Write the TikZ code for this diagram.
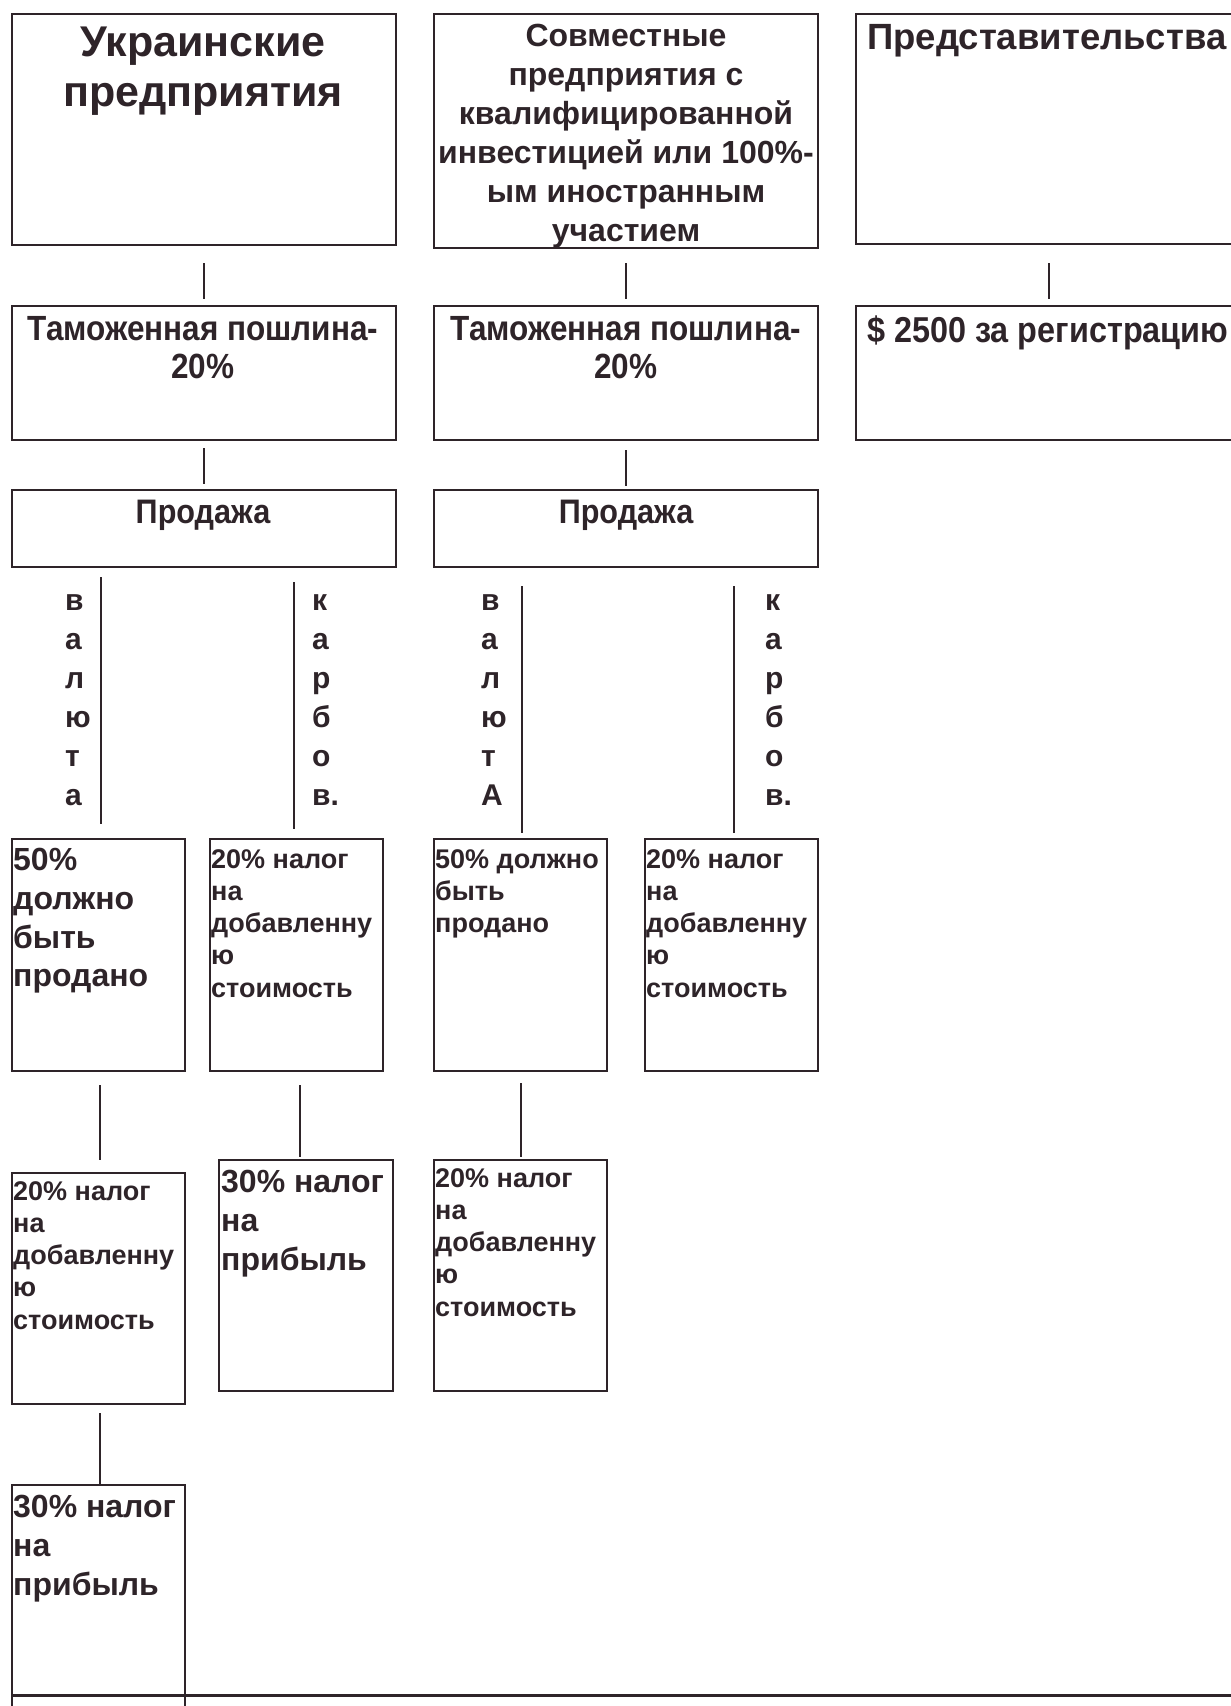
\documentclass[tikz,border=0pt]{standalone}
\usepackage{fontspec}
\setmainfont{Liberation Sans}
\newfontfamily\narrowfont{Liberation Sans}[FakeStretch=0.9]
\usetikzlibrary{calc}
\definecolor{ink}{RGB}{46,36,41}
\tikzset{
  box/.style={draw=ink, line width=2.2pt, inner sep=0pt, anchor=north west},
  conn/.style={draw=ink, line width=2.2pt},
  txt/.style={text=ink, inner sep=0pt},
  big/.style={txt, font={\fontsize{43}{50}\selectfont\bfseries}},
  mid/.style={txt, font={\fontsize{32}{39}\selectfont\bfseries}},
  rep/.style={txt, font={\fontsize{36.5}{44}\selectfont\bfseries}},
  nar/.style={txt, font={\narrowfont\fontsize{35}{38}\selectfont\bfseries}},
  narr/.style={txt, font={\narrowfont\fontsize{36}{38}\selectfont\bfseries}},
  narp/.style={txt, font={\narrowfont\fontsize{34}{38}\selectfont\bfseries}},
  vert/.style={txt, align=left, anchor=north west, font={\fontsize{30}{39}\selectfont\bfseries}},
  lg/.style={txt, align=left, anchor=north west, font={\fontsize{32}{38.8}\selectfont\bfseries}},
  sm/.style={txt, align=left, anchor=north west, font={\fontsize{27}{32.3}\selectfont\bfseries}},
}
\begin{document}
\begin{tikzpicture}[x=1pt,y=-1pt]
\useasboundingbox (0,0) rectangle (1231,1706);
\begin{scope}
\clip (0,0) rectangle (1231,1706);
% row 1
\node[box, minimum width=384pt, minimum height=231pt] (b1) at (11,13) {};
\node[box, minimum width=384pt, minimum height=234pt] (b2) at (433,13) {};
\node[box, minimum width=386pt, minimum height=230pt] (b3) at (855,13) {};
\node[big, align=center, anchor=north] (n1) at (203,27) {Украинские\\предприятия};
\node[mid, align=center, anchor=north] (n2) at (626,24) {Совместные\\предприятия с\\квалифицированной\\инвестицией или 100\%-\\ым иностранным\\участием};
\node[rep, anchor=north west] (n3) at (867,24) {Представительства};
% row 2
\node[box, minimum width=384pt, minimum height=134pt] (t1) at (11,305) {};
\node[box, minimum width=384pt, minimum height=134pt] (t2) at (433,305) {};
\node[box, minimum width=386pt, minimum height=134pt] (t3) at (855,305) {};
\node[nar, align=center, anchor=north] (m1) at (203,316) {Таможенная пошлина-\\20\%};
\node[nar, align=center, anchor=north] (m2) at (626,316) {Таможенная пошлина-\\20\%};
\node[narr, anchor=north west] (m3) at (867,316) {\$ 2500 за регистрацию};
% row 3
\node[box, minimum width=384pt, minimum height=77pt] (p1) at (11,489) {};
\node[box, minimum width=384pt, minimum height=77pt] (p2) at (433,489) {};
\node[narp, anchor=north] (pt1) at (203,500) {Продажа};
\node[narp, anchor=north] (pt2) at (626,500) {Продажа};
% vertical words
\node[vert] (v1) at (65,594) {в\\а\\л\\ю\\т\\а};
\node[vert] (v2) at (312,594) {к\\а\\р\\б\\о\\в.};
\node[vert] (v3) at (481,594) {в\\а\\л\\ю\\т\\А};
\node[vert] (v4) at (765,594) {к\\а\\р\\б\\о\\в.};
% row 4
\node[box, minimum width=173pt, minimum height=232pt] (r4a) at (11,838) {};
\node[box, minimum width=173pt, minimum height=232pt] (r4b) at (209,838) {};
\node[box, minimum width=173pt, minimum height=232pt] (r4c) at (433,838) {};
\node[box, minimum width=173pt, minimum height=232pt] (r4d) at (644,838) {};
\node[lg] (q1) at (13,848) {50\%\\должно\\быть\\продано};
\node[sm] (q2) at (211,849) {20\% налог\\на\\добавленну\\ю\\стоимость};
\node[sm] (q3) at (435,849) {50\% должно\\быть\\продано};
\node[sm] (q4) at (646,849) {20\% налог\\на\\добавленну\\ю\\стоимость};
% row 5
\node[box, minimum width=173pt, minimum height=231pt] (r5a) at (11,1172) {};
\node[box, minimum width=174pt, minimum height=231pt] (r5b) at (218,1159) {};
\node[box, minimum width=173pt, minimum height=231pt] (r5c) at (433,1159) {};
\node[sm] (s1) at (13,1181) {20\% налог\\на\\добавленну\\ю\\стоимость};
\node[lg] (s2) at (221,1170) {30\% налог\\на\\прибыль};
\node[sm] (s3) at (435,1168) {20\% налог\\на\\добавленну\\ю\\стоимость};
% row 6
\node[box, minimum width=173pt, minimum height=240pt] (r6a) at (11,1484) {};
\node[lg] (u1) at (13,1495) {30\% налог\\на\\прибыль};
\coordinate (hl) at (11,1695);
\coordinate (hr) at (1240,1695);
\draw[conn, line width=3pt] (hl) -- (hr);
% connectors
\draw[conn] ($(b1.south)+(0,17)$) -- ($(t1.north)+(0,-6)$);
\draw[conn] ($(b2.south)+(0,14)$) -- ($(t2.north)+(0,-6)$);
\draw[conn] ($(b3.south)+(0,18)$) -- ($(t3.north)+(0,-6)$);
\draw[conn] ($(t1.south)+(0,7)$) -- ($(p1.north)+(0,-5)$);
\draw[conn] ($(t2.south)+(0,9)$) -- ($(p2.north)+(0,-3)$);
\draw[conn] ($(p1.south -| r4a.north)+(2.5,9)$) -- ($(r4a.north)+(2.5,-14)$);
\draw[conn] ($(p1.south -| r4b.north)+(-2.5,14)$) -- ($(r4b.north)+(-2.5,-9)$);
\draw[conn] ($(p2.south -| r4c.north)+(1.5,18)$) -- ($(r4c.north)+(1.5,-5)$);
\draw[conn] ($(p2.south -| r4d.north)+(2,18)$) -- ($(r4d.north)+(2,-5)$);
\draw[conn] ($(r4a.south)+(1.5,13)$) -- ($(r5a.north)+(1.5,-12)$);
\draw[conn] ($(r4b.south)+(3.5,13)$) -- ($(r4b.south |- r5b.north)+(3.5,-2)$);
\draw[conn] ($(r4c.south)+(0,11)$) -- ($(r5c.north)+(0,-2)$);
\draw[conn] ($(r5a.south)+(1.5,8)$) -- ($(r6a.north)+(1.5,2)$);
\end{scope}
\end{tikzpicture}
\end{document}
